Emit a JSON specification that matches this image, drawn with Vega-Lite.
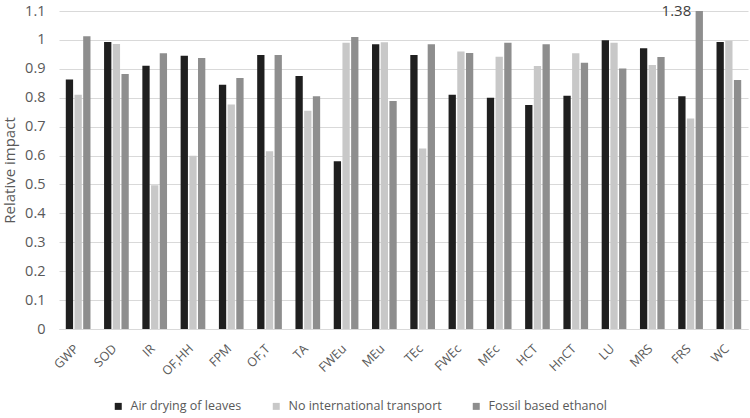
{
  "$schema": "https://vega.github.io/schema/vega-lite/v6.json",
  "width": 689,
  "height": 318,
  "autosize": {"type": "none"},
  "padding": {"left": 59, "top": 11, "right": 2, "bottom": 89},
  "background": "white",
  "config": {"font": "Open Sans", "view": {"stroke": null}},
  "data": {
    "values": [
      {"category": "GWP", "series": "Air drying of leaves", "value": 0.863},
      {"category": "GWP", "series": "No international transport", "value": 0.81},
      {"category": "GWP", "series": "Fossil based ethanol", "value": 1.013},
      {"category": "SOD", "series": "Air drying of leaves", "value": 0.993},
      {"category": "SOD", "series": "No international transport", "value": 0.986},
      {"category": "SOD", "series": "Fossil based ethanol", "value": 0.882},
      {"category": "IR", "series": "Air drying of leaves", "value": 0.911},
      {"category": "IR", "series": "No international transport", "value": 0.497},
      {"category": "IR", "series": "Fossil based ethanol", "value": 0.954},
      {"category": "OF,HH", "series": "Air drying of leaves", "value": 0.945},
      {"category": "OF,HH", "series": "No international transport", "value": 0.599},
      {"category": "OF,HH", "series": "Fossil based ethanol", "value": 0.937},
      {"category": "FPM", "series": "Air drying of leaves", "value": 0.845},
      {"category": "FPM", "series": "No international transport", "value": 0.777},
      {"category": "FPM", "series": "Fossil based ethanol", "value": 0.868},
      {"category": "OF,T", "series": "Air drying of leaves", "value": 0.948},
      {"category": "OF,T", "series": "No international transport", "value": 0.615},
      {"category": "OF,T", "series": "Fossil based ethanol", "value": 0.948},
      {"category": "TA", "series": "Air drying of leaves", "value": 0.875},
      {"category": "TA", "series": "No international transport", "value": 0.755},
      {"category": "TA", "series": "Fossil based ethanol", "value": 0.805},
      {"category": "FWEu", "series": "Air drying of leaves", "value": 0.58},
      {"category": "FWEu", "series": "No international transport", "value": 0.99},
      {"category": "FWEu", "series": "Fossil based ethanol", "value": 1.01},
      {"category": "MEu", "series": "Air drying of leaves", "value": 0.985},
      {"category": "MEu", "series": "No international transport", "value": 0.992},
      {"category": "MEu", "series": "Fossil based ethanol", "value": 0.789},
      {"category": "TEc", "series": "Air drying of leaves", "value": 0.948},
      {"category": "TEc", "series": "No international transport", "value": 0.624},
      {"category": "TEc", "series": "Fossil based ethanol", "value": 0.985},
      {"category": "FWEc", "series": "Air drying of leaves", "value": 0.81},
      {"category": "FWEc", "series": "No international transport", "value": 0.96},
      {"category": "FWEc", "series": "Fossil based ethanol", "value": 0.955},
      {"category": "MEc", "series": "Air drying of leaves", "value": 0.8},
      {"category": "MEc", "series": "No international transport", "value": 0.942},
      {"category": "MEc", "series": "Fossil based ethanol", "value": 0.99},
      {"category": "HCT", "series": "Air drying of leaves", "value": 0.775},
      {"category": "HCT", "series": "No international transport", "value": 0.91},
      {"category": "HCT", "series": "Fossil based ethanol", "value": 0.985},
      {"category": "HnCT", "series": "Air drying of leaves", "value": 0.807},
      {"category": "HnCT", "series": "No international transport", "value": 0.954},
      {"category": "HnCT", "series": "Fossil based ethanol", "value": 0.921},
      {"category": "LU", "series": "Air drying of leaves", "value": 0.999},
      {"category": "LU", "series": "No international transport", "value": 0.99},
      {"category": "LU", "series": "Fossil based ethanol", "value": 0.901},
      {"category": "MRS", "series": "Air drying of leaves", "value": 0.971},
      {"category": "MRS", "series": "No international transport", "value": 0.913},
      {"category": "MRS", "series": "Fossil based ethanol", "value": 0.941},
      {"category": "FRS", "series": "Air drying of leaves", "value": 0.805},
      {"category": "FRS", "series": "No international transport", "value": 0.728},
      {"category": "FRS", "series": "Fossil based ethanol", "value": 1.38},
      {"category": "WC", "series": "Air drying of leaves", "value": 0.993},
      {"category": "WC", "series": "No international transport", "value": 0.997},
      {"category": "WC", "series": "Fossil based ethanol", "value": 0.861}
    ]
  },
  "encoding": {
    "x": {
      "field": "category",
      "type": "nominal",
      "sort": null,
      "scale": {
        "domain": ["GWP","SOD","IR","OF,HH","FPM","OF,T","TA","FWEu","MEu","TEc","FWEc","MEc","HCT","HnCT","LU","MRS","FRS","WC"],
        "paddingInner": 0.355,
        "paddingOuter": 0.1775
      },
      "axis": {
        "title": null,
        "labelAngle": -45,
        "labelAlign": "right",
        "labelBaseline": "top",
        "labelPadding": 13,
        "labelOffset": -6,
        "labelFontSize": 12.5,
        "labelColor": "#595959",
        "ticks": false,
        "domainColor": "#d9d9d9",
        "domainWidth": 1
      }
    },
    "xOffset": {
      "field": "series",
      "type": "nominal",
      "scale": {
        "domain": ["Air drying of leaves", "No international transport", "Fossil based ethanol"],
        "paddingInner": 0.16,
        "paddingOuter": 0
      }
    }
  },
  "layer": [
    {
      "mark": {"type": "bar", "clip": true},
      "encoding": {
        "y": {
          "field": "value",
          "type": "quantitative",
          "scale": {"domain": [0, 1.1], "nice": false},
          "axis": {
            "values": [0, 0.1, 0.2, 0.3, 0.4, 0.5, 0.6, 0.7, 0.8, 0.9, 1, 1.1],
            "format": ".1~f",
            "labelOverlap": false,
            "domain": false,
            "ticks": false,
            "grid": true,
            "gridColor": "#d9d9d9",
            "gridWidth": 1,
            "labelPadding": 14,
            "labelFontSize": 14.5,
            "labelColor": "#595959",
            "title": "Relative impact",
            "titleFontSize": 15,
            "titleFontWeight": "normal",
            "titleColor": "#595959",
            "titleX": -49.5,
            "titleBaseline": "middle"
          }
        },
        "color": {
          "field": "series",
          "type": "nominal",
          "scale": {
            "domain": ["Air drying of leaves", "No international transport", "Fossil based ethanol"],
            "range": ["#1f1f1f", "#c8c8c8", "#8e8e8e"]
          },
          "legend": {
            "title": null,
            "orient": "none",
            "direction": "horizontal",
            "legendX": 53,
            "legendY": 389,
            "symbolType": "square",
            "symbolSize": 49,
            "symbolStrokeWidth": 0,
            "labelFontSize": 12.5,
            "labelColor": "#595959",
            "labelOffset": 6,
            "columnPadding": 28
          }
        }
      }
    },
    {
      "transform": [{"filter": "datum.value > 1.1"}],
      "mark": {"type": "text", "align": "right", "baseline": "middle", "dx": -8, "fontSize": 15, "color": "#404040"},
      "encoding": {
        "y": {
          "datum": 1.1,
          "type": "quantitative",
          "axis": {
            "values": [0, 0.1, 0.2, 0.3, 0.4, 0.5, 0.6, 0.7, 0.8, 0.9, 1, 1.1],
            "format": ".1~f",
            "labelOverlap": false,
            "domain": false,
            "ticks": false,
            "grid": true,
            "gridColor": "#d9d9d9",
            "gridWidth": 1,
            "labelPadding": 14,
            "labelFontSize": 14.5,
            "labelColor": "#595959",
            "title": "Relative impact",
            "titleFontSize": 15,
            "titleFontWeight": "normal",
            "titleColor": "#595959",
            "titleX": -49.5,
            "titleBaseline": "middle"
          }
        },
        "text": {"field": "value", "type": "quantitative", "format": ".2f"}
      }
    }
  ]
}
